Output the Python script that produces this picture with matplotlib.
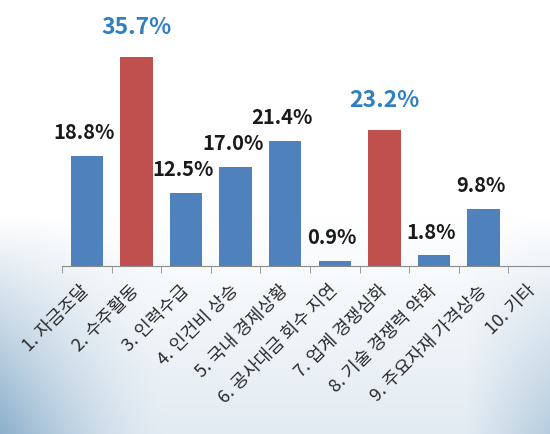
import numpy as np
import matplotlib.pyplot as plt
from matplotlib.ticker import FixedLocator

plt.rcParams['font.family'] = ['Noto Sans CJK KR', 'DejaVu Sans']

categories = ['1. 자금조달', '2. 수주활동', '3. 인력수급', '4. 인건비 상승', '5. 국내 경제상황',
              '6. 공사대금 회수 지연', '7. 업계 경쟁심화', '8. 기술 경쟁력 약화',
              '9. 주요자재 가격상승', '10. 기타']
values = [18.8, 35.7, 12.5, 17.0, 21.4, 0.9, 23.2, 1.8, 9.8, 0.0]
highlight = [1, 6]

W, H = 550, 435
fig = plt.figure(figsize=(W / 100, H / 100), dpi=100)

# soft background: white on top, pale blue-grey towards the bottom, bluer at the edges
bg = fig.add_axes([0, 0, 1, 1], zorder=0)
yy, xx = np.mgrid[0:1:200j, 0:1:200j]
tv = np.clip((yy - 0.5) / 0.5, 0, 1)
edge = np.clip(1 - xx / 0.3, 0, 1) ** 1.5 + 0.5 * np.clip((xx - 0.85) / 0.15, 0, 1)
t = tv * (0.25 + 0.75 * np.clip(edge, 0, 1))
top = np.array([1.0, 1.0, 1.0])
bot = np.array([0.55, 0.69, 0.80])
img = top[None, None, :] * (1 - t[..., None]) + bot[None, None, :] * t[..., None]
bg.imshow(img, extent=[0, 1, 0, 1], aspect='auto', origin='upper')
bg.axis('off')

ax = fig.add_axes([62 / W, 1 - 267 / H, 496 / W, 234 / H], zorder=1)
ax.patch.set_alpha(0)
x = np.arange(len(categories))
colors = ['#c0504d' if i in highlight else '#4f81bd' for i in x]
ax.bar(x, values, width=0.65, color=colors)

ax.set_xlim(-0.5, len(categories) - 0.5)
ax.set_ylim(0, 40)
for s in ['top', 'right', 'left']:
    ax.spines[s].set_visible(False)
ax.spines['bottom'].set_color('#8c8c8c')
ax.set_yticks([])

ax.set_xticks(x)
ax.set_xticklabels(categories, rotation=45, ha='right', va='center',
                   rotation_mode='anchor', fontsize=13, color='#2a2a2a')
ax.tick_params(axis='x', length=0, pad=15)
ax.xaxis.set_minor_locator(FixedLocator(np.arange(-0.5, len(categories), 1.0)))
ax.tick_params(axis='x', which='minor', length=5, color='#8c8c8c')

for i, v in enumerate(values):
    if i == len(values) - 1:
        continue
    if i in highlight:
        ax.annotate(f'{v:.1f}%', (i, v), xytext=(0, 14), textcoords='offset points',
                    ha='center', va='bottom', fontsize=16.5, fontweight='bold',
                    color='#2f7fc1', annotation_clip=False)
    else:
        ax.annotate(f'{v:.1f}%', (i, v), xytext=(-2, 10), textcoords='offset points',
                    ha='center', va='bottom', fontsize=14.5, fontweight='bold',
                    color='#1a1a1a', annotation_clip=False)

fig.savefig('out.png', dpi=100)
